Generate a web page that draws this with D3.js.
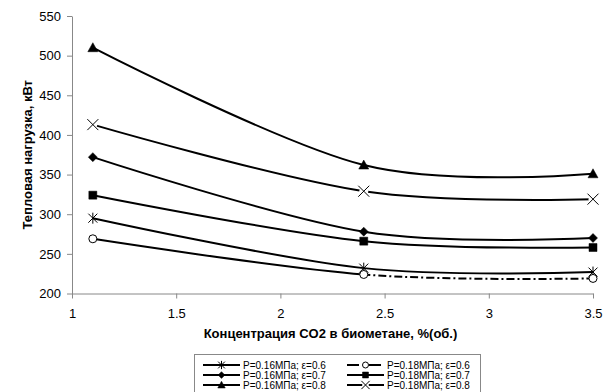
<!DOCTYPE html>
<html>
<head>
<meta charset="utf-8">
<script src="https://cdn.jsdelivr.net/npm/d3@7"></script>
<style>
  body { margin: 0; background: #fff; }
  svg { font-family: "Liberation Sans", Arial, sans-serif; }
</style>
</head>
<body>
<svg id="chart" width="605" height="392"></svg>
<script>
// CO2 concentration, %
var conc = [1.1, 2.4, 3.5];

var p016e06 = [295, 232, 227];
var p016e07 = [372, 278, 270];
var p016e08 = [510, 362, 351];
var p018e06 = [269, 224, 219];
var p018e07 = [324, 266, 258];
var p018e08 = [413, 329, 319];

var xTicks = [1, 1.5, 2, 2.5, 3, 3.5];
var yTicks = [200, 250, 300, 350, 400, 450, 500, 550];

var series = [
  {name: "P=0.16МПа; ε=0.6", values: p016e06, marker: "star", dash: null},
  {name: "P=0.16МПа; ε=0.7", values: p016e07, marker: "diamond", dash: null},
  {name: "P=0.16МПа; ε=0.8", values: p016e08, marker: "triangle", dash: null},
  {name: "P=0.18МПа; ε=0.6", values: p018e06, marker: "circle", dash: "8,3,2,3"},
  {name: "P=0.18МПа; ε=0.7", values: p018e07, marker: "square", dash: null},
  {name: "P=0.18МПа; ε=0.8", values: p018e08, marker: "x", dash: null}
];

var svg = d3.select("#chart");
var pLeft = 72, pRight = 593, pTop = 16, pBottom = 293.5;

var x = d3.scaleLinear().domain([1, 3.5]).range([pLeft, pRight]);
var y = d3.scaleLinear().domain([200, 550]).range([pBottom, pTop]);

// axes
var xAxis = svg.append("g")
  .attr("transform", "translate(0," + pBottom + ")")
  .call(d3.axisBottom(x).tickValues(xTicks).tickSize(5).tickSizeOuter(0).tickFormat(d3.format("")));
var yAxis = svg.append("g")
  .attr("transform", "translate(" + pLeft + ",0)")
  .call(d3.axisLeft(y).tickValues(yTicks).tickSize(5).tickSizeOuter(0));

[xAxis, yAxis].forEach(function (a) {
  a.select(".domain").attr("stroke", "#888");
  a.selectAll(".tick line").attr("stroke", "#888");
  a.selectAll(".tick text").attr("font-size", 13).attr("font-family", "Liberation Sans, Arial, sans-serif").attr("fill", "#000");
});
xAxis.selectAll(".tick text").attr("dy", "1.25em");
yAxis.selectAll(".tick text").attr("x", -11);

svg.append("text")
  .attr("x", (pLeft + pRight) / 2 - 2)
  .attr("y", 338)
  .attr("text-anchor", "middle")
  .attr("font-size", 13)
  .attr("font-weight", "bold")
  .text("Концентрация CO2 в биометане, %(об.)");

svg.append("text")
  .attr("transform", "translate(32," + ((pTop + pBottom) / 2) + ") rotate(-90)")
  .attr("text-anchor", "middle")
  .attr("font-size", 13)
  .attr("font-weight", "bold")
  .text("Тепловая нагрузка, кВт");

// clip paths for the circle series: solid first part, dash-dot after
var defs = svg.append("defs");
defs.append("clipPath").attr("id", "clipA").append("rect")
  .attr("x", 0).attr("y", 0).attr("width", x(conc[1])).attr("height", 392);
defs.append("clipPath").attr("id", "clipB").append("rect")
  .attr("x", x(conc[1])).attr("y", 0).attr("width", 605).attr("height", 392);

var line = d3.line()
  .x(function (d) { return x(d[0]); })
  .y(function (d) { return y(d[1]); })
  .curve(d3.curveCardinal.tension(0));

function markerPath(type) {
  switch (type) {
    case "triangle": return "M0,-5L5,4L-5,4Z";
    case "diamond": return "M0,-4.5L4.5,0L0,4.5L-4.5,0Z";
    case "square": return "M-4,-4L4,-4L4,4L-4,4Z";
    case "x": return "M-5.5,-5.5L5.5,5.5M-5.5,5.5L5.5,-5.5";
    case "star": return "M-4.5,-4.5L4.5,4.5M-4.5,4.5L4.5,-4.5M0,-5.5L0,5.5";
  }
  return null;
}

function drawMarker(g, type, cx, cy, k) {
  k = k || 1;
  if (type === "circle") {
    g.append("circle").attr("cx", cx).attr("cy", cy).attr("r", 4 * k)
      .attr("fill", "#fff").attr("stroke", "#000").attr("stroke-width", 1);
    return;
  }
  var stroked = (type === "x" || type === "star");
  if (type === "x") {
    g.append("circle").attr("cx", cx).attr("cy", cy).attr("r", 4.5 * k).attr("fill", "#fff");
  }
  g.append("path")
    .attr("transform", "translate(" + cx + "," + cy + ") scale(" + k + ")")
    .attr("d", markerPath(type))
    .attr("fill", stroked ? "none" : "#000")
    .attr("stroke", "#000")
    .attr("stroke-width", (stroked ? 1 : 0.5) / k);
}

var plot = svg.append("g");
series.forEach(function (s) {
  var pts = conc.map(function (c, i) { return [c, s.values[i]]; });
  if (s.dash) {
    plot.append("path").attr("d", line(pts)).attr("fill", "none")
      .attr("stroke", "#000").attr("stroke-width", 2).attr("clip-path", "url(#clipA)");
    plot.append("path").attr("d", line(pts)).attr("fill", "none")
      .attr("stroke", "#000").attr("stroke-width", 2).attr("stroke-dasharray", s.dash)
      .attr("clip-path", "url(#clipB)");
  } else {
    plot.append("path").attr("d", line(pts)).attr("fill", "none")
      .attr("stroke", "#000").attr("stroke-width", 2);
  }
});
series.forEach(function (s) {
  var g = plot.append("g");
  conc.forEach(function (c, i) { drawMarker(g, s.marker, x(c), y(s.values[i])); });
});

// legend
var legend = svg.append("g");
legend.append("rect")
  .attr("x", 194.5).attr("y", 354.5).attr("width", 286).attr("height", 50)
  .attr("fill", "#fff").attr("stroke", "#888").attr("stroke-width", 1);

series.forEach(function (s, i) {
  var col = Math.floor(i / 3), row = i % 3;
  var lx = col === 0 ? 203 : 347;
  var ly = 365 + row * 10;
  var g = legend.append("g");
  g.append("line").attr("x1", lx).attr("x2", lx + 37).attr("y1", ly).attr("y2", ly)
    .attr("stroke", "#000").attr("stroke-width", 2)
    .attr("stroke-dasharray", s.dash ? "12,4,2,4" : null);
  drawMarker(g, s.marker, lx + 18.5, ly, 0.75);
  g.append("text").attr("x", lx + 40).attr("y", ly + 3.5)
    .attr("font-size", 10).text(s.name);
});
</script>
</body>
</html>
